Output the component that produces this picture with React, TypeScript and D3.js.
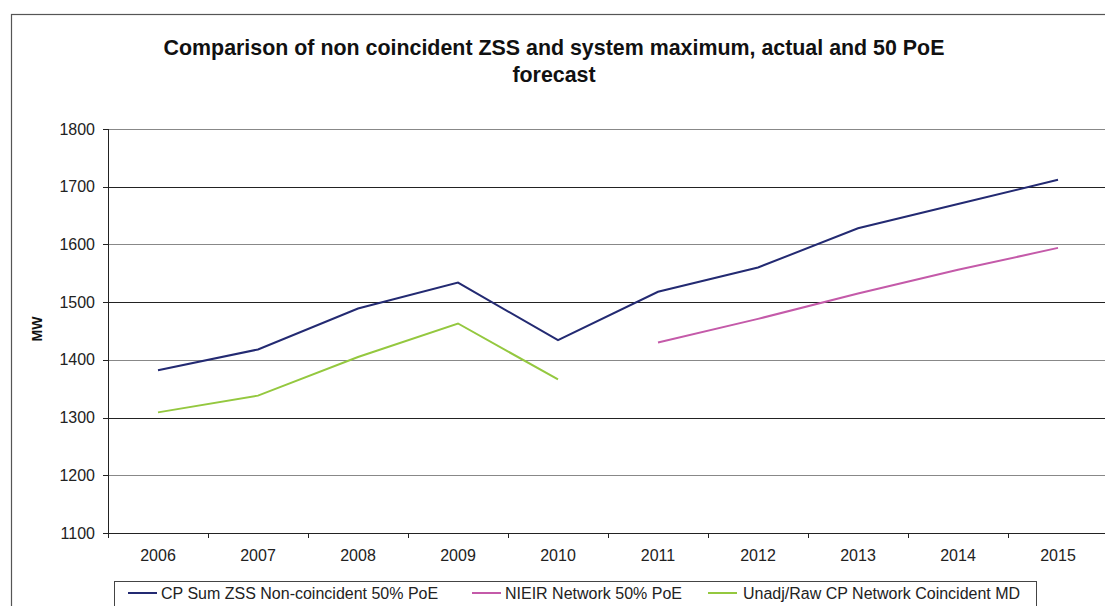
import React from "react";
import * as d3 from "d3";

const years = ["2006", "2007", "2008", "2009", "2010", "2011", "2012", "2013", "2014", "2015"];
const cpSumZss: (number | null)[] = [1382, 1418, 1489, 1534, 1434, 1518, 1560, 1628, 1670, 1712];
const nieir: (number | null)[] = [null, null, null, null, null, 1430, 1471, 1515, 1556, 1594];
const unadjRaw: (number | null)[] = [1309, 1338, 1405, 1463, 1366, null, null, null, null, null];
const yTicks = [1100, 1200, 1300, 1400, 1500, 1600, 1700, 1800];

const seriesNames = ["CP Sum ZSS Non-coincident 50% PoE", "NIEIR Network 50% PoE", "Unadj/Raw CP Network Coincident MD"];
const seriesColors = ["#232a72", "#c45aa9", "#94c83f"];
const seriesData = [cpSumZss, nieir, unadjRaw];

const W = 1105;
const H = 606;
const plotLeft = 108;
const plotRight = 1108;
const plotTop = 129;
const plotBottom = 533;
const FONT = "'Liberation Sans', Arial, sans-serif";

export default function App() {
  const x = d3.scaleBand<string>().domain(years).range([plotLeft, plotRight]).padding(0);
  const y = d3.scaleLinear().domain([1100, 1800]).range([plotBottom, plotTop]);
  const cx = (yr: string) => (x(yr) ?? 0) + x.bandwidth() / 2;

  const line = d3
    .line<number | null>()
    .defined((d) => d !== null)
    .x((_, i) => cx(years[i]))
    .y((d) => y(d as number));

  const legendItems = [
    { lx: 128, tx: 161 },
    { lx: 472, tx: 505 },
    { lx: 708, tx: 743 },
  ];

  return (
    <svg
      width={W}
      height={H}
      style={{ position: "absolute", left: 0, top: 0, display: "block", background: "#fff" }}
      fontFamily={FONT}
    >
      {/* outer chart border */}
      <rect x={11.5} y={14.5} width={1200} height={700} fill="none" stroke="#555" strokeWidth={1.2} />

      {/* title */}
      <text x={554} y={55} textAnchor="middle" fontSize={21.4} fontWeight="bold" fill="#111">
        Comparison of non coincident ZSS and system maximum, actual and 50 PoE
      </text>
      <text x={554} y={82} textAnchor="middle" fontSize={21.4} fontWeight="bold" fill="#111">
        forecast
      </text>

      {/* gridlines */}
      {yTicks.map((t, i) => (
        <line
          key={"g" + t}
          x1={plotLeft}
          x2={plotRight}
          y1={Math.round(y(t)) + 0.5}
          y2={Math.round(y(t)) + 0.5}
          stroke={i % 2 === 0 ? "#222" : "#888"}
          strokeWidth={1}
        />
      ))}

      {/* y axis */}
      <line x1={plotLeft + 0.5} x2={plotLeft + 0.5} y1={plotTop} y2={plotBottom} stroke="#222" />
      {yTicks.map((t) => (
        <g key={"yt" + t}>
          <line x1={plotLeft - 5} x2={plotLeft} y1={Math.round(y(t)) + 0.5} y2={Math.round(y(t)) + 0.5} stroke="#222" />
          <text x={95} y={y(t) + 5.5} textAnchor="end" fontSize={16} fill="#222">
            {t}
          </text>
        </g>
      ))}
      <text
        transform={`translate(42, 329) rotate(-90)`}
        textAnchor="middle"
        fontSize={14}
        fontWeight="bold"
        fill="#111"
      >
        MW
      </text>

      {/* x axis */}
      <line x1={plotLeft} x2={plotRight} y1={plotBottom + 0.5} y2={plotBottom + 0.5} stroke="#222" />
      {years.map((yr) => (
        <g key={"xt" + yr}>
          <line
            x1={(x(yr) ?? 0) + 0.5}
            x2={(x(yr) ?? 0) + 0.5}
            y1={plotBottom}
            y2={plotBottom + 5}
            stroke="#222"
          />
          <text x={cx(yr)} y={561} textAnchor="middle" fontSize={16} fill="#222">
            {yr}
          </text>
        </g>
      ))}

      {/* series */}
      {seriesData.map((d, i) => (
        <path key={"s" + i} d={line(d) ?? ""} fill="none" stroke={seriesColors[i]} strokeWidth={2} />
      ))}

      {/* legend */}
      <rect x={114.5} y={581.5} width={922} height={40} fill="#fff" stroke="#444" strokeWidth={1} />
      {seriesNames.map((n, i) => (
        <g key={"l" + i}>
          <line
            x1={legendItems[i].lx}
            x2={legendItems[i].lx + 29}
            y1={593}
            y2={593}
            stroke={seriesColors[i]}
            strokeWidth={2}
          />
          <text x={legendItems[i].tx} y={599} fontSize={16} fill="#222">
            {n}
          </text>
        </g>
      ))}
    </svg>
  );
}
